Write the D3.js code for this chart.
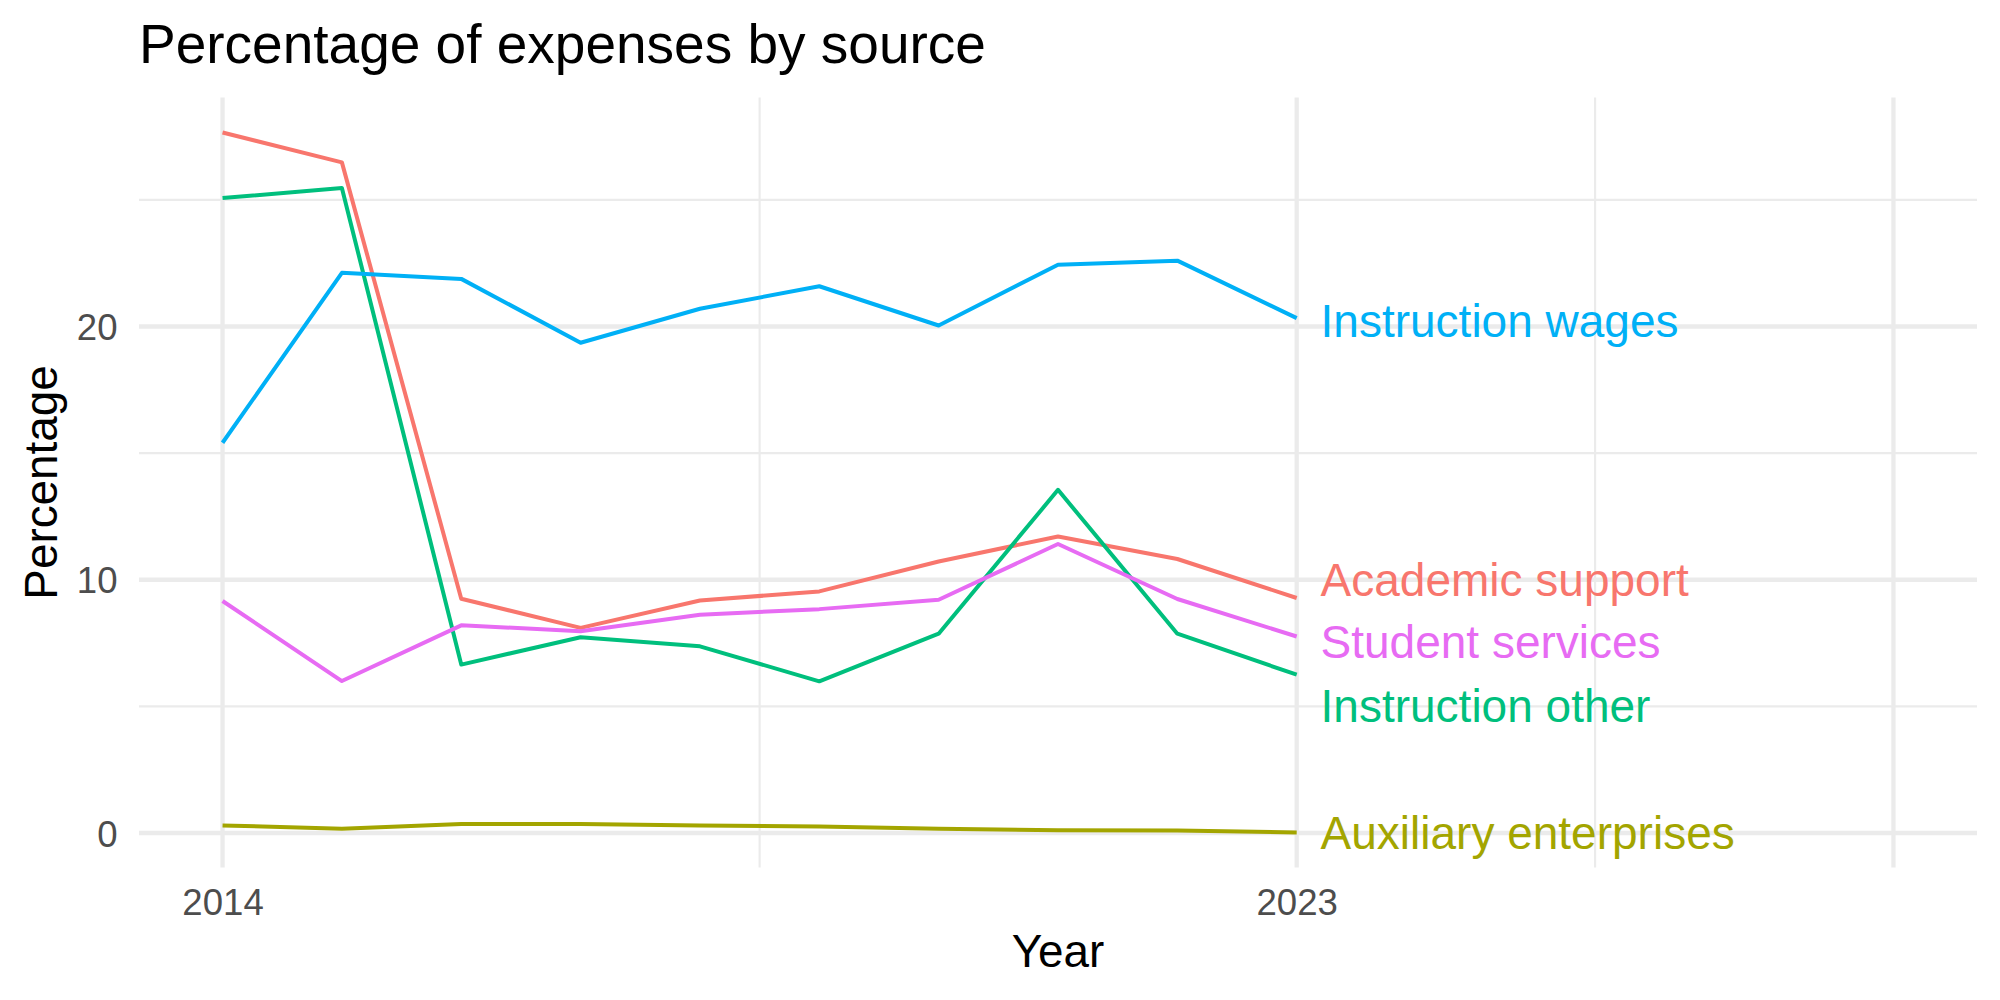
<!DOCTYPE html>
<html>
<head>
<meta charset="utf-8">
<script src="https://cdn.jsdelivr.net/npm/d3@7"></script>
<style>
  html, body { margin: 0; padding: 0; background: #ffffff; }
  svg { display: block; font-family: "Liberation Sans", Arial, Helvetica, sans-serif; }
</style>
</head>
<body>
<svg id="chart" width="2000" height="1000"></svg>
<script>
// ---------------- data ----------------
const years = [2014, 2015, 2016, 2017, 2018, 2019, 2020, 2021, 2022, 2023];
const seriesNames = ["Academic support", "Auxiliary enterprises", "Instruction other", "Instruction wages", "Student services"];
const academicSupport      = [27.66, 26.48, 9.25, 8.10, 9.18, 9.54, 10.72, 11.71, 10.82, 9.28];
const auxiliaryEnterprises = [0.30, 0.17, 0.36, 0.36, 0.30, 0.26, 0.17, 0.11, 0.10, 0.02];
const instructionOther     = [25.07, 25.47, 6.65, 7.73, 7.37, 5.99, 7.87, 13.55, 7.87, 6.25];
const instructionWages     = [15.41, 22.12, 21.88, 19.36, 20.70, 21.59, 20.04, 22.44, 22.60, 20.33];
const studentServices      = [9.16, 6.00, 8.20, 7.97, 8.62, 8.84, 9.21, 11.41, 9.24, 7.76];
const seriesValues = [academicSupport, auxiliaryEnterprises, instructionOther, instructionWages, studentServices];
// label (repelled) positions, in data units
const labelYear = 2023.2;
const labelValues = [10.0, 0.0, 5.04, 20.22, 7.55];
const seriesColors = ["#F8766D", "#A3A500", "#00BF7D", "#00B0F6", "#E76BF3"];
// axis
const xLimits = [2014, 2028];
const xMajorBreaks = [2014, 2023, 2028];
const xTickLabels = ["2014", "2023", ""];
const xMinorBreaks = [2018.5, 2025.5];
const yMajorBreaks = [0, 10, 20];
const yMinorBreaks = [5, 15, 25];
const titleText = "Percentage of expenses by source";
const xTitle = "Year";
const yTitle = "Percentage";

// ---------------- layout ----------------
const panel = { left: 139, top: 97.5, right: 1977, bottom: 867.5 };
const svg = d3.select("#chart");

const xr = xLimits[1] - xLimits[0];
const x = d3.scaleLinear()
  .domain([xLimits[0] - 0.05 * xr, xLimits[1] + 0.05 * xr])
  .range([panel.left, panel.right]);

const allVals = seriesValues.flat();
const yMin = d3.min(allVals), yMax = d3.max(allVals), yr = yMax - yMin;
const y = d3.scaleLinear()
  .domain([yMin - 0.05 * yr, yMax + 0.05 * yr])
  .range([panel.bottom, panel.top]);

const grid = svg.append("g");
const gridColor = "#EBEBEB";
// minor grid
grid.selectAll("line.ymin").data(yMinorBreaks).join("line")
  .attr("x1", panel.left).attr("x2", panel.right)
  .attr("y1", d => y(d)).attr("y2", d => y(d))
  .attr("stroke", gridColor).attr("stroke-width", 2.15);
grid.selectAll("line.xmin").data(xMinorBreaks).join("line")
  .attr("y1", panel.top).attr("y2", panel.bottom)
  .attr("x1", d => x(d)).attr("x2", d => x(d))
  .attr("stroke", gridColor).attr("stroke-width", 2.15);
// major grid
grid.selectAll("line.ymaj").data(yMajorBreaks).join("line")
  .attr("x1", panel.left).attr("x2", panel.right)
  .attr("y1", d => y(d)).attr("y2", d => y(d))
  .attr("stroke", gridColor).attr("stroke-width", 4.3);
grid.selectAll("line.xmaj").data(xMajorBreaks).join("line")
  .attr("y1", panel.top).attr("y2", panel.bottom)
  .attr("x1", d => x(d)).attr("x2", d => x(d))
  .attr("stroke", gridColor).attr("stroke-width", 4.3);

// ---------------- axes ----------------
const tickFont = 36.6;
const xAxis = d3.axisBottom(x).tickValues(xMajorBreaks)
  .tickFormat((d, i) => xTickLabels[i]).tickSize(0).tickPadding(21.5);
const gx = svg.append("g").attr("transform", `translate(0,${panel.bottom})`).call(xAxis);
gx.select(".domain").remove();
gx.selectAll("text").attr("fill", "#4D4D4D").attr("font-size", tickFont)
  .attr("font-family", "Liberation Sans, Arial, sans-serif");

const yAxis = d3.axisLeft(y).tickValues(yMajorBreaks).tickFormat(d3.format("d"))
  .tickSize(0).tickPadding(panel.left - 117.5);
const gy = svg.append("g").attr("transform", `translate(${panel.left},0)`).call(yAxis);
gy.select(".domain").remove();
gy.selectAll("text").attr("fill", "#4D4D4D").attr("font-size", tickFont)
  .attr("dy", "0.358em")
  .attr("font-family", "Liberation Sans, Arial, sans-serif");

// ---------------- lines ----------------
const line = d3.line().x((d, i) => x(years[i])).y(d => y(d));
svg.append("g").selectAll("path").data(seriesValues).join("path")
  .attr("d", d => line(d))
  .attr("fill", "none")
  .attr("stroke", (d, i) => seriesColors[i])
  .attr("stroke-width", 4)
  .attr("stroke-linejoin", "round")
  .attr("stroke-linecap", "butt");

// ---------------- labels ----------------
const labelFont = 46;
svg.append("g").selectAll("text").data(seriesNames).join("text")
  .attr("x", x(labelYear))
  .attr("y", (d, i) => y(labelValues[i]))
  .attr("dy", "0.358em")
  .attr("text-anchor", "start")
  .attr("font-size", labelFont)
  .attr("fill", (d, i) => seriesColors[i])
  .text(d => d);

// ---------------- titles ----------------
svg.append("text")
  .attr("x", panel.left).attr("y", 63.3)
  .attr("font-size", 55).attr("fill", "#000")
  .text(titleText);

svg.append("text")
  .attr("x", (panel.left + panel.right) / 2).attr("y", 967.3)
  .attr("text-anchor", "middle")
  .attr("font-size", 45.8).attr("fill", "#000")
  .text(xTitle);

svg.append("text")
  .attr("transform", `translate(57,${(panel.top + panel.bottom) / 2}) rotate(-90)`)
  .attr("text-anchor", "middle")
  .attr("font-size", 45.8).attr("fill", "#000")
  .text(yTitle);
</script>
</body>
</html>
